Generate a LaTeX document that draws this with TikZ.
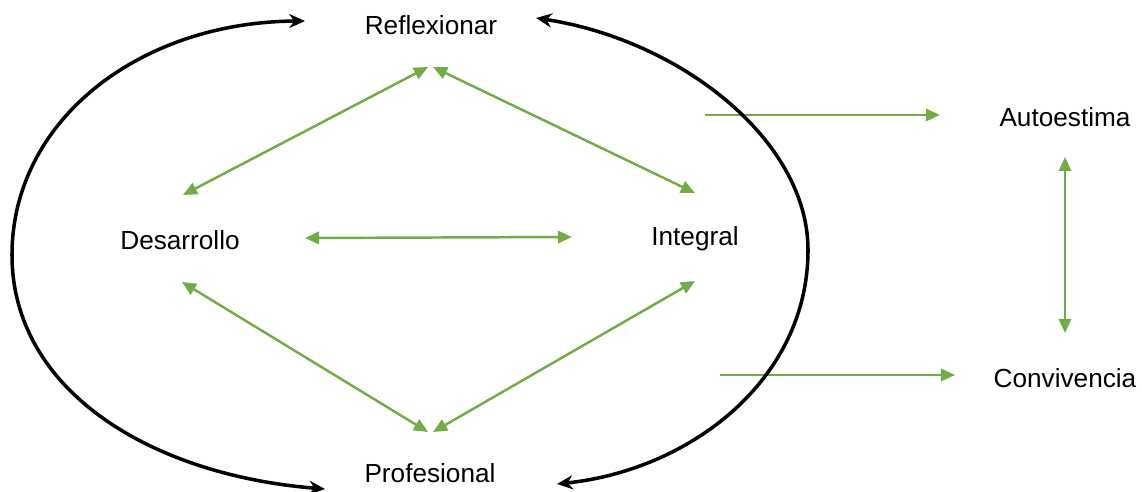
\documentclass[tikz,border=0pt]{standalone}
\usepackage{fontspec}
\setmainfont{Liberation Sans}
\usetikzlibrary{arrows.meta}
\definecolor{grn}{HTML}{70AD47}
\begin{document}
\begin{tikzpicture}[x=0.02cm,y=-0.02cm,
  lbl/.style={inner sep=0pt,font=\fontsize{14.9pt}{16pt}\selectfont},
  garrow/.style={draw=grn,line width=1.4pt,{Triangle[length=8pt,width=7pt]}-{Triangle[length=8pt,width=7pt]}},
  gone/.style={draw=grn,line width=1.4pt,-{Triangle[length=8pt,width=7pt]}},
  barc/.style={draw=black,line width=2pt,{Stealth[length=9pt,width=8pt]}-{Stealth[length=9pt,width=8pt]}}]
\useasboundingbox (0,0) rectangle (1142,492);
\node[lbl] (ref) at (431,25) {Reflexionar};
\node[lbl] (des) at (180,240) {Desarrollo};
\node[lbl] (int) at (695,239) {Integral};
\node[lbl] (pro) at (430,473) {Profesional};
\node[lbl] (aut) at (1065,117) {Autoestima};
\node[lbl] (con) at (1065,378) {Convivencia};
% green connectors
\coordinate (rd1) at (428,67); \coordinate (rd2) at (183,195);
\coordinate (ri1) at (433,67); \coordinate (ri2) at (695,193);
\coordinate (di1) at (305,238); \coordinate (di2) at (572,237);
\coordinate (dp1) at (182,282); \coordinate (dp2) at (428,432);
\coordinate (ip1) at (695,281); \coordinate (ip2) at (433,432);
\coordinate (a1) at (705,115); \coordinate (a2) at (940,115);
\coordinate (c1) at (720,375); \coordinate (c2) at (955,375);
\coordinate (ac1) at (1065,157); \coordinate (ac2) at (1065,333);
\draw[garrow] (rd1) -- (rd2);
\draw[garrow] (ri1) -- (ri2);
\draw[garrow] (di1) -- (di2);
\draw[garrow] (dp1) -- (dp2);
\draw[garrow] (ip1) -- (ip2);
\draw[gone] (a1) -- (a2);
\draw[gone] (c1) -- (c2);
\draw[garrow] (ac1) -- (ac2);
% black arcs
\coordinate (lt) at (305,21);
\coordinate (lb) at (325,489);
\coordinate (rt) at (536,18);
\coordinate (rb) at (557,484);
\draw[barc] (lt) .. controls (140,22) and (12,120) .. (12,255)
  .. controls (12,390) and (150,475) .. (lb);
\draw[barc] (rt) .. controls (680,40) and (808,140) .. (808,250)
  .. controls (808,380) and (690,470) .. (rb);
\end{tikzpicture}
\end{document}
